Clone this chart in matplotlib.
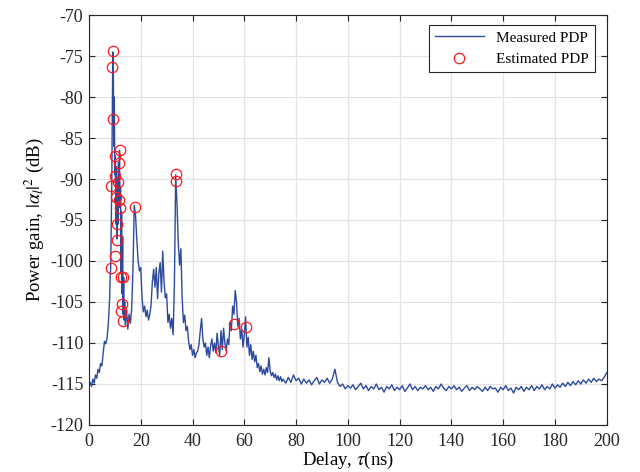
import numpy as np
import matplotlib
matplotlib.use('Agg')
import matplotlib.pyplot as plt

# === Measured PDP in segments ===
# 0 - 7.5 ns, 0.5 ns step
gain_a = [-115.0, -114.8, -115.3, -114.4, -114.9, -113.9, -114.3, -113.2,
          -113.6, -112.5, -112.8, -111.2, -109.8, -110.1, -109.4, -107.5]
# 8 - 13.8 ns, 0.2 ns step (main cluster)
gain_b = [-104.5, -102.0, -100.8, -96.0, -91.0, -82.0, -74.5, -76.5, -86.0, -80.0,
          -89.5, -87.2, -95.5, -88.5, -97.3, -90.0, -95.5, -88.0, -92.6, -86.5,
          -93.5, -91.0, -101.5, -94.0, -104.0, -97.0, -106.5, -102.0, -107.2, -105.0]
# 14 - 74.5 ns, 0.5 ns step
gain_c = [-107.8, -106.0, -108.3, -106.5, -107.6, -105.8, -101.0, -93.2, -94.5, -97.5,
          -100.0, -101.2, -100.8, -104.5, -106.2, -105.5, -106.8, -106.0, -107.2, -106.5,
          -105.3, -102.5, -101.0, -103.2, -100.8, -104.6, -101.5, -100.2, -103.8, -98.8,
          -102.5, -104.5, -104.0, -107.5, -106.5, -108.2, -107.0, -109.0, -103.0, -89.5,
          -93.0, -97.8, -100.5, -98.5, -104.5, -107.5, -106.6, -108.5, -108.0, -109.8,
          -110.8, -110.2, -111.5, -110.8, -111.8, -111.2, -111.0, -110.2, -108.5, -107.0,
          -109.5, -110.5, -110.0, -111.5, -110.5, -111.8, -110.3, -109.5, -111.0, -110.0,
          -111.2, -108.8, -110.5, -111.5, -108.5, -110.8, -108.2, -110.0, -111.0, -109.5,
          -110.2, -107.5, -108.5, -105.5, -106.5, -103.6, -105.0, -108.0, -107.0, -109.5,
          -108.3, -110.5, -109.0, -106.8, -110.5, -109.3, -111.5, -110.2, -112.0, -111.0,
          -112.3, -111.5, -113.0, -112.5, -113.5, -112.8, -113.8, -113.2, -113.9, -113.0,
          -113.6, -111.8, -113.4, -114.0, -113.6, -114.2, -113.8, -114.5, -114.0, -114.6,
          -114.1, -114.7]
# 75 - 200 ns, 1 ns step (noise floor)
gain_d = [-114.4, -114.9, -114.2, -114.8, -113.9, -114.6, -114.3, -115.0, -114.4, -114.9,
          -114.5, -115.1, -114.6, -114.2, -115.0, -114.5, -114.8, -114.3, -114.9, -114.4,
          -113.2, -114.8, -115.3, -115.0, -115.6, -115.2, -115.5, -115.1, -115.7, -115.3,
          -114.9, -115.6, -115.2, -115.8, -115.3, -115.6, -115.0, -115.7, -115.4, -116.0,
          -115.3, -115.6, -115.1, -115.8, -115.4, -115.7, -115.2, -115.9, -115.5, -115.0,
          -115.7, -115.3, -115.8, -115.4, -115.6, -115.2, -115.7, -115.4, -115.9, -115.3,
          -115.6, -115.0, -115.5, -115.8, -115.3, -115.6, -115.2, -115.7, -115.4, -115.9,
          -115.5, -115.2, -115.8, -115.4, -115.7, -115.3, -115.6, -115.9, -115.4, -115.8,
          -115.3, -115.6, -115.5, -116.0, -115.4, -115.7, -115.2, -115.8, -115.5, -116.1,
          -115.4, -115.7, -115.3, -115.9, -115.4, -115.7, -115.2, -115.8, -115.3, -115.6,
          -115.1, -115.7, -115.3, -115.6, -115.0, -115.5, -115.1, -115.4, -114.9, -115.3,
          -114.8, -115.2, -114.7, -115.1, -114.6, -115.0, -114.5, -114.9, -114.4, -114.8,
          -114.3, -114.7, -114.4, -114.6, -114.2, -113.6]

delay_a = 0.0 + 0.5 * np.arange(len(gain_a))
delay_b = 8.0 + 0.2 * np.arange(len(gain_b))
delay_c = 14.0 + 0.5 * np.arange(len(gain_c))
delay_d = 75.0 + 1.0 * np.arange(len(gain_d))

delay_meas = np.concatenate([delay_a, delay_b, delay_c, delay_d])
gain_meas = np.concatenate([gain_a, gain_b, gain_c, gain_d])

# === Estimated PDP (circles) ===
delay_est = [9.3, 8.9, 9.3, 10.0, 12.0, 11.6, 10.0, 8.5, 11.2, 10.4, 11.6, 12.0, 17.8,
             10.8, 10.8, 10.0, 8.5, 12.4, 13.1, 12.7, 12.4, 13.1, 33.6, 33.6, 51.0, 56.0, 60.6]
gain_est = [-74.4, -76.3, -82.7, -87.2, -86.5, -88.0, -89.6, -90.9, -90.4, -92.2, -92.6,
            -93.5, -93.4, -95.5, -97.4, -99.4, -100.9, -102.0, -102.0, -105.2, -106.1,
            -107.3, -89.4, -90.2, -111.0, -107.7, -108.0]

plt.rcParams['font.family'] = ['Liberation Serif', 'DejaVu Serif']
plt.rcParams['mathtext.fontset'] = 'stix'
plt.rcParams['axes.unicode_minus'] = False

fig = plt.figure(figsize=(6.4, 4.72), dpi=100)
ax = fig.add_axes([0.139, 0.0996, 0.809, 0.8686])

ax.plot(delay_meas, gain_meas, color='#2d4a9e', linewidth=1.0, label='Measured PDP')
ax.plot(delay_est, gain_est, linestyle='none', marker='o', markersize=7.5,
        markerfacecolor='none', markeredgecolor='#ff1a1a', markeredgewidth=0.9,
        label='Estimated PDP')

ax.set_xlim(0, 200)
ax.set_ylim(-120, -70)
ax.set_xticks(np.arange(0, 201, 20))
ax.set_yticks(np.arange(-120, -69, 5))
ax.grid(True, color='#e3e3e3', linewidth=0.9)
ax.set_axisbelow(True)
for s in ax.spines.values():
    s.set_color('#262626')
    s.set_linewidth(0.8)
ax.tick_params(direction='in', top=True, right=True, length=4, width=0.8,
               colors='#262626', labelsize=13)
ax.tick_params(axis='x', pad=6)
ax.tick_params(axis='y', pad=4)

ax.set_xlabel(r'Delay, $\tau$(ns)', fontsize=13.5, labelpad=0)
ax.set_ylabel(r'Power gain, $|\alpha_l|^2$ (dB)', fontsize=13.5, labelpad=3)

leg = ax.legend(loc='upper right', fontsize=11, fancybox=False, framealpha=1,
                edgecolor='#262626', borderpad=0.4, handlelength=3.2,
                borderaxespad=0, bbox_to_anchor=(0.977, 0.976))
leg.get_frame().set_linewidth(0.8)

fig.savefig('out.png', dpi=100)
